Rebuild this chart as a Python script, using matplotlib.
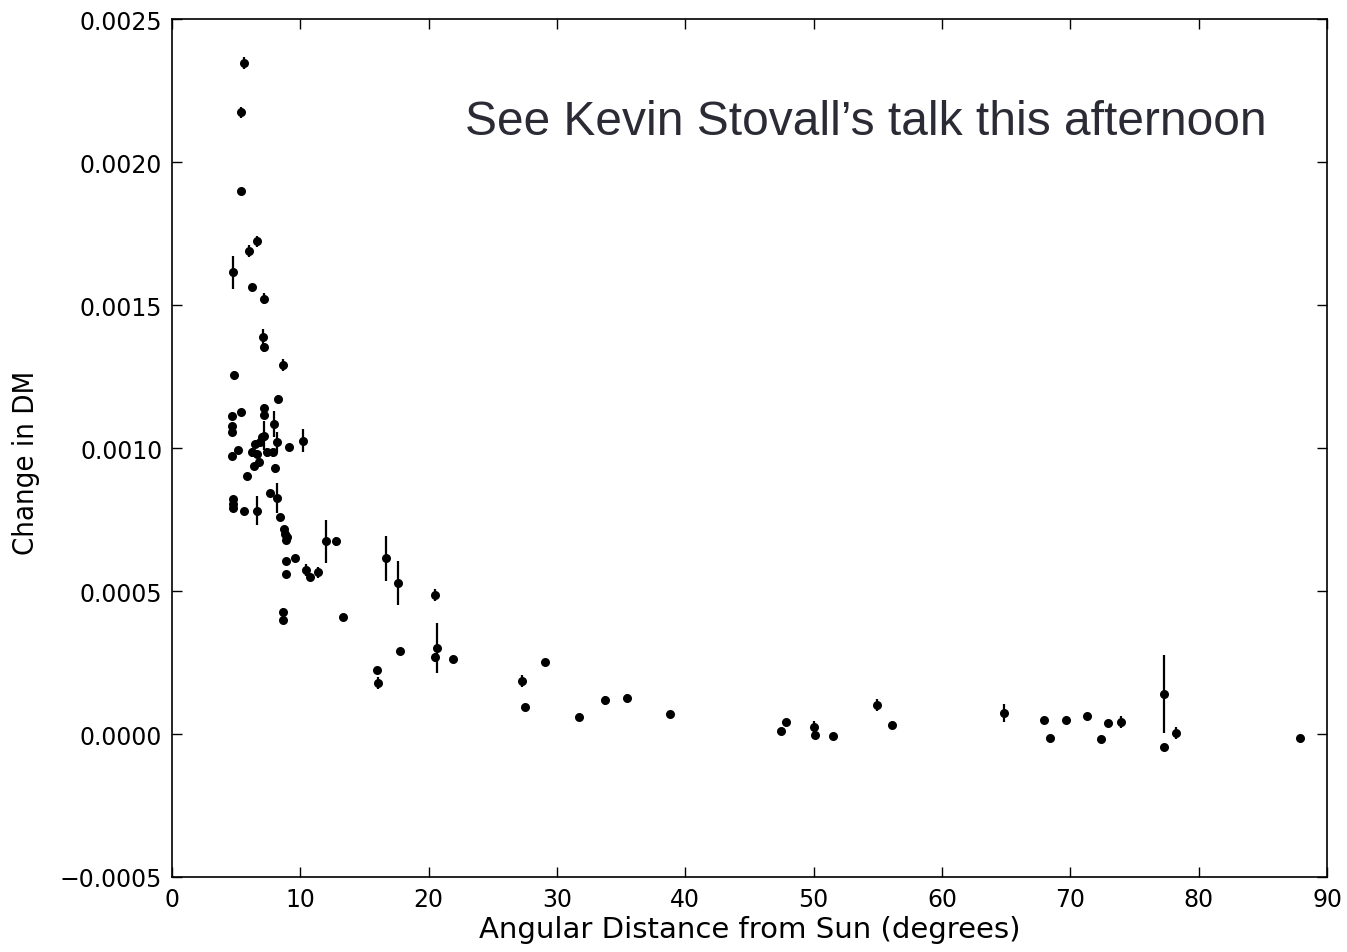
"""
Change in DM versus angular distance from the Sun, with per-epoch
error bars.
"""

import matplotlib
matplotlib.use("Agg")
import matplotlib.pyplot as plt
import numpy as np
from matplotlib import font_manager

# Angular distance from the Sun (degrees)
angle = [
    5.63, 5.38, 5.38, 6.60, 6.00, 4.78, 6.23, 7.19, 7.07, 7.19,
    8.63, 4.80, 8.28, 5.38, 7.19, 7.19, 4.65, 4.65, 4.65, 7.92,
    7.19, 6.99, 6.86, 6.47, 8.16, 10.18, 9.12, 5.17, 4.65, 6.21,
    6.60, 7.38, 7.89, 6.41, 6.80, 8.05, 5.87, 7.64, 8.16, 4.78,
    4.78, 4.78, 5.61, 6.60, 8.42, 8.73, 8.81, 8.98, 8.88, 12.00,
    12.76, 8.88, 9.61, 10.44, 10.79, 11.40, 8.88, 8.63, 8.63, 13.35,
    16.68, 17.63, 20.52, 15.95, 16.08, 17.77, 20.63, 20.49, 21.92, 27.30,
    27.51, 29.07, 31.71, 33.76, 35.45, 38.80, 47.46, 47.85, 50.03, 50.10,
    51.50, 54.94, 56.10, 64.83, 67.95, 68.42, 69.66, 71.30, 72.39, 72.94,
    73.95, 77.30, 77.30, 78.23, 87.90,
]

# Change in DM
dm_change = [
    0.002346, 0.002174, 0.001899, 0.001723, 0.001689, 0.001614, 0.001564, 0.001522, 0.001387, 0.001352,
    0.001290, 0.001256, 0.001171, 0.001127, 0.001139, 0.001115, 0.001111, 0.001078, 0.001055, 0.001084,
    0.001043, 0.001037, 0.001020, 0.001014, 0.001020, 0.001026, 0.001002, 0.000993, 0.000971, 0.000985,
    0.000979, 0.000985, 0.000985, 0.000938, 0.000950, 0.000929, 0.000901, 0.000843, 0.000825, 0.000822,
    0.000804, 0.000790, 0.000781, 0.000781, 0.000760, 0.000717, 0.000699, 0.000688, 0.000678, 0.000674,
    0.000674, 0.000604, 0.000614, 0.000574, 0.000548, 0.000565, 0.000559, 0.000426, 0.000399, 0.000410,
    0.000614, 0.000528, 0.000486, 0.000225, 0.000178, 0.000290, 0.000301, 0.000268, 0.000262, 0.000186,
    0.0000955, 0.000253, 0.0000584, 0.000118, 0.000126, 0.0000689, 0.0000094, 0.000042, 0.0000255, -0.0000024,
    -0.000007, 0.000101, 0.0000315, 0.0000734, 0.0000479, -0.0000129, 0.0000479, 0.000064, -0.0000175, 0.0000374,
    0.000042, 0.000139, -0.0000444, 0.0000035, -0.0000129,
]

# One-sigma uncertainty on the DM change
dm_error = [
    0.000020, 0.000020, 0.000010, 0.000020, 0.000020, 0.000058, 0.000010, 0.000020, 0.000030, 0.000015,
    0.000020, 0.000015, 0.000015, 0.000010, 0.000015, 0.000015, 0.000010, 0.000010, 0.000010, 0.000047,
    0.000050, 0.000015, 0.000015, 0.000010, 0.000035, 0.000040, 0.000010, 0.000010, 0.000010, 0.000015,
    0.000015, 0.000015, 0.000015, 0.000010, 0.000015, 0.000015, 0.000010, 0.000010, 0.000051, 0.000010,
    0.000010, 0.000010, 0.000010, 0.000051, 0.000010, 0.000010, 0.000015, 0.000010, 0.000010, 0.000076,
    0.000015, 0.000010, 0.000010, 0.000020, 0.000010, 0.000020, 0.000010, 0.000015, 0.000010, 0.000010,
    0.000080, 0.000076, 0.000020, 0.000010, 0.000020, 0.000010, 0.000088, 0.000015, 0.000010, 0.000020,
    0.000010, 0.000010, 0.000010, 0.000015, 0.000015, 0.000010, 0.000010, 0.000010, 0.000020, 0.000010,
    0.000010, 0.000020, 0.000010, 0.000032, 0.000012, 0.000010, 0.000012, 0.000010, 0.000010, 0.000010,
    0.000020, 0.000137, 0.000010, 0.000020, 0.000010,
]

X_TICKS = np.arange(0, 91, 10)
Y_TICKS = np.arange(-0.0005, 0.00251, 0.0005)

installed = {f.name for f in font_manager.fontManager.ttflist}
if "Liberation Sans Narrow" in installed:
    label_font = dict(family="Liberation Sans Narrow", fontsize=23)
else:
    label_font = dict(family="DejaVu Sans", stretch="condensed", fontsize=21)

plt.rcParams["font.family"] = "DejaVu Sans"

fig = plt.figure(figsize=(13.47, 9.53), dpi=100)
ax = fig.add_axes([0.1277, 0.0787, 0.8575, 0.9003])

ax.errorbar(angle, dm_change, yerr=dm_error, fmt="o", color="black",
            markersize=6.5, elinewidth=1.6, capsize=0, markeredgewidth=0)

ax.set_xlim(0, 90)
ax.set_ylim(-0.0005, 0.0025)
ax.set_xticks(X_TICKS)
ax.set_yticks(Y_TICKS)
ax.set_yticklabels(["\u22120.0005", "0.0000", "0.0005", "0.0010",
                    "0.0015", "0.0020", "0.0025"])
ax.tick_params(direction="in", top=True, right=True, length=7, width=1,
               labelsize=17, pad=7)
for spine in ax.spines.values():
    spine.set_linewidth(1.2)

ax.set_xlabel("Angular Distance from Sun (degrees)", fontsize=21, labelpad=3)
ax.set_ylabel("Change in DM", **label_font)
ax.yaxis.set_label_coords(-0.1143, 0.484)

ax.text(0.948, 0.881, "See Kevin Stovall\u2019s talk this afternoon",
        transform=ax.transAxes, ha="right", va="center",
        fontsize=34.5, family="Liberation Sans", color="#2b2b35")

fig.savefig("out.png", dpi=100)
